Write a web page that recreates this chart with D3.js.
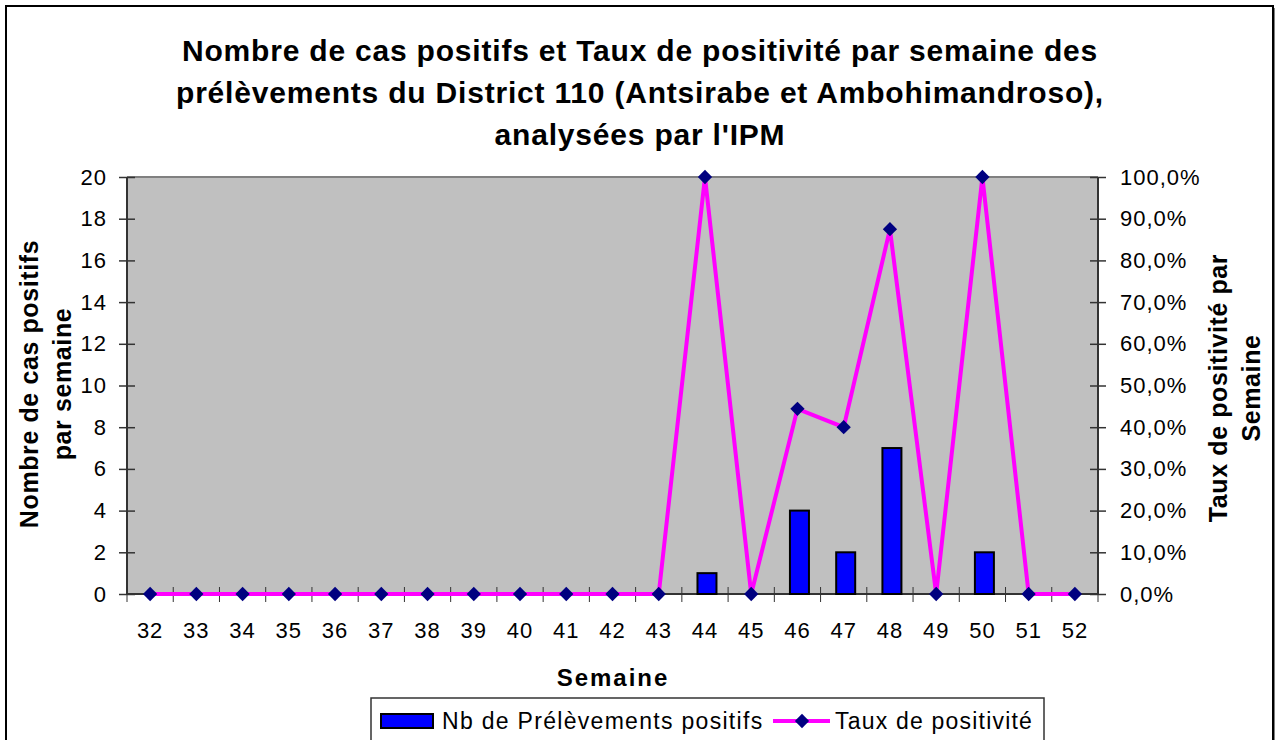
<!DOCTYPE html>
<html>
<head>
<meta charset="utf-8">
<script src="https://cdn.jsdelivr.net/npm/d3@7"></script>
<style>
  body { margin: 0; background: #fff; }
  svg { font-family: "Liberation Sans", Arial, sans-serif; }
  .tick text { font-size: 22px; fill: #000; letter-spacing: 1px; }
</style>
</head>
<body>
<div id="chart"></div>
<script>
// weekly data
var weeks = ['32','33','34','35','36','37','38','39','40','41','42','43','44','45','46','47','48','49','50','51','52'];
var cases = [0,0,0,0,0,0,0,0,0,0,0,0,1,0,4,2,7,0,2,0,0];
var rates = [0,0,0,0,0,0,0,0,0,0,0,0,100,0,44.4,40,87.5,0,100,0,0];
var countTicks = [0,2,4,6,8,10,12,14,16,18,20];
var rateTicks = [0,10,20,30,40,50,60,70,80,90,100];

var width = 1284, height = 740;
var plot = {left: 127, right: 1098, top: 177, bottom: 594};

var svg = d3.select('#chart').append('svg')
    .attr('width', width)
    .attr('height', height);

// outer frame with shadow
svg.append('rect')
    .attr('x', 8).attr('y', 8)
    .attr('width', 1267).attr('height', 760)
    .style('fill', '#808080');
svg.append('rect')
    .attr('x', 6).attr('y', 6)
    .attr('width', 1267).attr('height', 760)
    .style('fill', 'white')
    .style('stroke', 'black')
    .style('stroke-width', 2);

// title
var title = ['Nombre de cas positifs et Taux de positivité par semaine des',
             'prélèvements du District 110 (Antsirabe et Ambohimandroso),',
             "analysées par l'IPM"];
svg.append('g').selectAll('text')
    .data(title)
    .enter()
    .append('text')
    .attr('x', 640)
    .attr('y', function(d, i) {return 61 + i*42;})
    .style('text-anchor', 'middle')
    .style('font-weight', 'bold')
    .style('font-size', '30px')
    .style('letter-spacing', '0.8px')
    .text(function(d) {return d;});

var x = d3.scaleBand()
    .domain(weeks)
    .range([plot.left, plot.right]);
var yL = d3.scaleLinear().domain([0, 20]).range([plot.bottom, plot.top]);
var yR = d3.scaleLinear().domain([0, 100]).range([plot.bottom, plot.top]);

// plot area
svg.append('rect')
    .attr('x', plot.left).attr('y', plot.top)
    .attr('width', plot.right - plot.left)
    .attr('height', plot.bottom - plot.top)
    .style('fill', '#c0c0c0');
svg.append('line')
    .attr('x1', plot.left).attr('x2', plot.right)
    .attr('y1', plot.top).attr('y2', plot.top)
    .style('stroke', '#808080').style('stroke-width', 2);

// left axis
var axL = svg.append('g')
    .attr('transform', 'translate(' + plot.left + ',0)')
    .call(d3.axisLeft(yL).tickValues(countTicks).tickSize(8).tickPadding(12));
axL.selectAll('.tick line').attr('x2', -8).attr('x1', 8);

// right axis
var axR = svg.append('g')
    .attr('transform', 'translate(' + plot.right + ',0)')
    .call(d3.axisRight(yR).tickValues(rateTicks).tickSize(8).tickPadding(14)
        .tickFormat(function(d) {return d3.format('.1f')(d).replace('.', ',') + '%';}));
axR.selectAll('.tick line').attr('x1', -8);

// bottom axis, ticks between categories
var axB = svg.append('g')
    .attr('transform', 'translate(0,' + plot.bottom + ')')
    .call(d3.axisBottom(x).tickSize(0).tickPadding(28));
axB.selectAll('.tick text').attr('dy', '0.71em');
axB.selectAll('.bnd')
    .data(d3.range(weeks.length + 1))
    .enter()
    .append('line')
    .attr('x1', function(d) {return plot.left + d * x.step();})
    .attr('x2', function(d) {return plot.left + d * x.step();})
    .attr('y1', -7).attr('y2', 8)
    .style('stroke', '#333');

[axL, axR, axB].forEach(function(a) {
    a.select('.domain').style('stroke', '#333').style('stroke-width', 2)
        .attr('d', a === axB ? 'M' + plot.left + ',0H' + plot.right
                             : 'M0,' + plot.top + 'V' + plot.bottom);
    a.selectAll('.tick line').style('stroke', '#333').style('stroke-width', 1.5);
});

// bars
var barW = 19;
svg.append('g').selectAll('rect')
    .data(weeks.map(function(w, i) {return {week: w, value: cases[i]};})
        .filter(function(d) {return d.value > 0;}))
    .enter()
    .append('rect')
    .attr('x', function(d) {return x(d.week) + x.bandwidth()/2 - barW/2 + 2;})
    .attr('y', function(d) {return yL(d.value);})
    .attr('width', barW)
    .attr('height', function(d) {return plot.bottom - yL(d.value);})
    .style('fill', '#0000ff')
    .style('stroke', 'black')
    .style('stroke-width', 2);

// rate line
var rateData = weeks.map(function(w, i) {return {week: w, value: rates[i]};});
var line = d3.line()
    .x(function(d) {return x(d.week) + x.bandwidth()/2;})
    .y(function(d) {return yR(d.value);});
svg.append('path')
    .datum(rateData)
    .attr('d', line)
    .style('fill', 'none')
    .style('stroke', '#ff00ff')
    .style('stroke-width', 4)
    .style('stroke-linejoin', 'miter');

var diamond = d3.symbol().type(d3.symbolDiamond2).size(130);
svg.append('g').selectAll('path')
    .data(rateData)
    .enter()
    .append('path')
    .attr('d', diamond)
    .attr('transform', function(d) {
        return 'translate(' + (x(d.week) + x.bandwidth()/2) + ',' + yR(d.value) + ')';})
    .style('fill', '#000080');

// axis titles
function axisTitle(tx, ty, label) {
    svg.append('text')
        .attr('transform', 'translate(' + tx + ',' + ty + ') rotate(-90)')
        .style('text-anchor', 'middle')
        .style('font-weight', 'bold')
        .style('font-size', '25px')
        .style('letter-spacing', '0.6px')
        .text(label);
}
axisTitle(38, 384, 'Nombre de cas positifs');
axisTitle(71, 384, 'par semaine');
axisTitle(1227, 388, 'Taux de positivité par');
axisTitle(1260, 388, 'Semaine');

svg.append('text')
    .attr('x', 613).attr('y', 686)
    .style('text-anchor', 'middle')
    .style('font-weight', 'bold')
    .style('font-size', '24px')
    .style('letter-spacing', '2px')
    .text('Semaine');

// legend
var legend = svg.append('g');
legend.append('rect')
    .attr('x', 371).attr('y', 698)
    .attr('width', 673).attr('height', 60)
    .style('fill', 'white')
    .style('stroke', '#333')
    .style('stroke-width', 1.5);
legend.append('rect')
    .attr('x', 381).attr('y', 714)
    .attr('width', 52).attr('height', 14)
    .style('fill', '#0000ff')
    .style('stroke', 'black')
    .style('stroke-width', 2);
legend.append('text')
    .attr('x', 442).attr('y', 729)
    .style('font-size', '23px')
    .style('letter-spacing', '1.3px')
    .text('Nb de Prélèvements positifs');
legend.append('line')
    .attr('x1', 773).attr('x2', 830)
    .attr('y1', 721).attr('y2', 721)
    .style('stroke', '#ff00ff')
    .style('stroke-width', 4);
legend.append('path')
    .attr('d', diamond)
    .attr('transform', 'translate(802,721)')
    .style('fill', '#000080');
legend.append('text')
    .attr('x', 835).attr('y', 729)
    .style('font-size', '23px')
    .style('letter-spacing', '1.2px')
    .text('Taux de positivité');
</script>
</body>
</html>
